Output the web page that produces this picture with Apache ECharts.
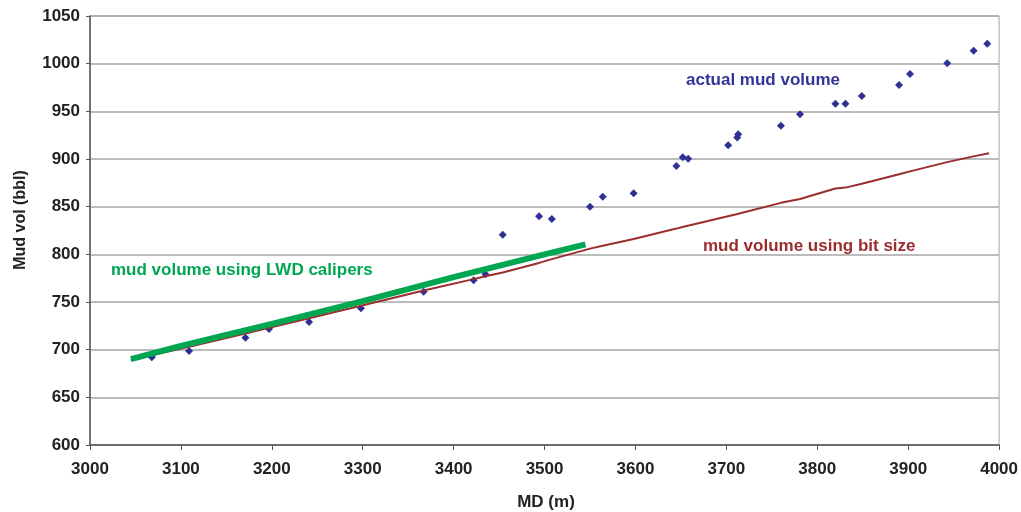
<!DOCTYPE html>
<html>
<head>
<meta charset="utf-8">
<script src="https://cdn.jsdelivr.net/npm/echarts@6/dist/echarts.min.js"></script>
<style>
  html, body { margin: 0; padding: 0; background: #ffffff; }
  #chart { width: 1021px; height: 512px; }
</style>
</head>
<body>
<div id="chart"></div>
<script>
// Measured depth (m) and actual mud volume (bbl) at each reading
var mdActual  = [3068, 3109, 3171, 3197, 3241, 3298, 3367, 3422, 3435, 3454, 3494, 3508, 3550, 3564, 3598,
                 3645, 3652, 3658, 3702, 3712, 3713, 3760, 3781, 3820, 3831, 3849, 3890, 3902, 3943, 3972, 3987];
var volActual = [692, 698.6, 712.6, 721.7, 729, 743.4, 760.8, 772.8, 779, 820.6, 839.9, 837, 850, 860.5, 864,
                 892.7, 901.8, 900.3, 914.3, 922.5, 926, 935, 946.9, 958, 958, 966, 977.6, 989.2, 1000.4, 1013.6, 1021];

// Theoretical mud volume computed from bit size
var mdBit  = [3045, 3068, 3109, 3171, 3197, 3241, 3298, 3367, 3422, 3435, 3454, 3494, 3508, 3550, 3564,
              3598, 3645, 3653, 3711, 3760, 3781, 3820, 3831, 3849, 3890, 3902, 3944, 3973, 3989];
var volBit = [689, 694, 703, 717, 723, 733, 746, 762, 774, 777, 781, 791, 795, 806, 809,
              816, 827, 829, 842, 854, 858, 869, 870, 874, 884, 887, 897, 903, 906];

// Mud volume computed from LWD caliper hole size
var mdLwd  = [3045, 3100, 3200, 3300, 3400, 3500, 3545];
var volLwd = [690, 704, 727, 751, 776, 800, 810.5];

// Axis ranges
var xTicks = { min: 3000, max: 4000, step: 100 };
var yTicks = { min: 600, max: 1050, step: 50 };

function pairs(xs, ys) {
  return xs.map(function (x, i) { return [x, ys[i]]; });
}
function plain(v) { return String(v); }

var FONT = '"Liberation Sans", Arial, sans-serif';
var NAVY = '#2e3192';
var RED = '#9b2d2d';
var GREEN = '#00a651';

var chart = echarts.init(document.getElementById('chart'), null, { renderer: 'canvas' });

chart.setOption({
  animation: false,
  backgroundColor: '#ffffff',
  grid: {
    left: 90, right: 20, top: 16, bottom: 67,
    show: true, borderColor: '#a6a6a6', borderWidth: 1, backgroundColor: 'transparent'
  },
  xAxis: {
    type: 'value',
    min: xTicks.min, max: xTicks.max, interval: xTicks.step,
    axisLine: { show: true, onZero: false, lineStyle: { color: '#555555', width: 1.5 } },
    axisTick: { show: true, inside: false, length: 5, lineStyle: { color: '#555555' } },
    axisLabel: { margin: 16, color: '#222222', fontSize: 17, fontWeight: 'bold', fontFamily: FONT, formatter: plain },
    splitLine: { show: false }
  },
  yAxis: {
    type: 'value',
    min: yTicks.min, max: yTicks.max, interval: yTicks.step,
    axisLine: { show: true, onZero: false, lineStyle: { color: '#555555', width: 1.5 } },
    axisTick: { show: true, inside: false, length: 4, lineStyle: { color: '#555555' } },
    axisLabel: { margin: 10, color: '#222222', fontSize: 17, fontWeight: 'bold', fontFamily: FONT, formatter: plain },
    splitLine: { show: true, lineStyle: { color: '#a6a6a6', width: 1.5 } }
  },
  series: [
    {
      name: 'actual mud volume',
      type: 'scatter',
      symbol: 'diamond',
      symbolSize: 8,
      itemStyle: { color: NAVY, opacity: 1 },
      data: pairs(mdActual, volActual),
      z: 2
    },
    {
      name: 'mud volume using bit size',
      type: 'line',
      showSymbol: false,
      lineStyle: { color: RED, width: 2 },
      data: pairs(mdBit, volBit),
      z: 3
    },
    {
      name: 'mud volume using LWD calipers',
      type: 'line',
      showSymbol: false,
      lineStyle: { color: GREEN, width: 6 },
      data: pairs(mdLwd, volLwd),
      z: 4
    }
  ],
  graphic: [
    {
      type: 'text', left: 686, top: 72,
      style: { text: 'actual mud volume', fill: '#333399', font: 'bold 17px ' + FONT }
    },
    {
      type: 'text', left: 703, top: 238,
      style: { text: 'mud volume using bit size', fill: '#9b2d2d', font: 'bold 17px ' + FONT }
    },
    {
      type: 'text', left: 111, top: 262,
      style: { text: 'mud volume using LWD calipers', fill: '#00a651', font: 'bold 17px ' + FONT }
    },
    {
      type: 'text', x: 546, y: 502,
      style: { text: 'MD (m)', fill: '#222222', font: 'bold 17px ' + FONT, textAlign: 'center', textVerticalAlign: 'middle' }
    },
    {
      type: 'text', x: 21, y: 220, rotation: Math.PI / 2,
      style: { text: 'Mud vol (bbl)', fill: '#222222', font: 'bold 16px ' + FONT, textAlign: 'center', textVerticalAlign: 'middle' }
    }
  ]
});
</script>
</body>
</html>
